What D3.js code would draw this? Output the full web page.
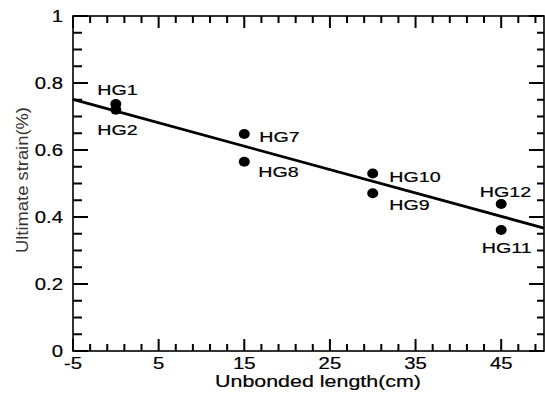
<!DOCTYPE html>
<html>
<head>
<meta charset="utf-8">
<script src="https://cdn.jsdelivr.net/npm/d3@7"></script>
<style>
  body { margin: 0; background: #fff; }
  svg { display: block; font-family: "Liberation Sans", Arial, sans-serif; }
</style>
</head>
<body>
<svg id="chart" width="545" height="394"></svg>
<script>
// ── Data ────────────────────────────────────────────────────────────────────
const specimens = ["HG1", "HG2", "HG7", "HG8", "HG10", "HG9", "HG12", "HG11"];
const unbonded  = [0, 0, 15, 15, 30, 30, 45, 45];
const strain    = [0.737, 0.72, 0.648, 0.565, 0.530, 0.471, 0.439, 0.361];
// label offsets (px) relative to each point
const labelDx   = [-18.5, -18.5, 15, 14, 16.5, 16.5, -21.5, -19.5];
const labelDy   = [-9, 25, 8.5, 15.5, 8.5, 16.5, -7, 22.5];

// fitted trend line endpoints
const fitX = [-5, 50];
const fitY = [0.751, 0.367];

const xTicks = [-5, 5, 15, 25, 35, 45];
const yTicks = [0, 0.2, 0.4, 0.6, 0.8, 1];
const xMinor = [-3, -1, 1, 3, 7, 9, 11, 13, 17, 19, 21, 23, 27, 29, 31, 33, 37, 39, 41, 43, 47, 49];
const yMinor = [0.05, 0.1, 0.15, 0.25, 0.3, 0.35, 0.45, 0.5, 0.55, 0.65, 0.7, 0.75, 0.85, 0.9, 0.95];

// ── Layout ──────────────────────────────────────────────────────────────────
const svg = d3.select("#chart");
const left = 73, right = 544, top0 = 16, bottom = 351;

const x = d3.scaleLinear().domain([-5, 50]).range([left, right]);
const y = d3.scaleLinear().domain([0, 1]).range([bottom, top0]);

const stretch = 1.27;   // the original lettering is noticeably wide
const tw = 2;           // tick thickness

// ── Inward ticks on all four sides, drawn as thin filled bars ───────────────
const xTickData = xTicks.map(v => ({ v, len: 12 })).concat(xMinor.map(v => ({ v, len: 7 })));
const yTickData = yTicks.map(v => ({ v, l: 15, r: 15 })).concat(yMinor.map(v => ({ v, l: 9, r: 7 })));

const tg = svg.append("g").attr("fill", "#000");
tg.selectAll(".tb").data(xTickData).join("rect").attr("class", "tb")
  .attr("x", d => x(d.v) - tw / 2).attr("y", d => bottom - d.len)
  .attr("width", tw).attr("height", d => d.len);
tg.selectAll(".tt").data(xTickData).join("rect").attr("class", "tt")
  .attr("x", d => x(d.v) - tw / 2).attr("y", top0)
  .attr("width", tw).attr("height", d => d.len);
tg.selectAll(".tl").data(yTickData).join("rect").attr("class", "tl")
  .attr("x", left).attr("y", d => y(d.v) - tw / 2)
  .attr("width", d => d.l).attr("height", tw);
tg.selectAll(".tr").data(yTickData).join("rect").attr("class", "tr")
  .attr("x", d => right - d.r).attr("y", d => y(d.v) - tw / 2)
  .attr("width", d => d.r).attr("height", tw);

// ── Frame ───────────────────────────────────────────────────────────────────
svg.append("rect")
  .attr("x", left).attr("y", top0).attr("width", right - left).attr("height", bottom - top0)
  .attr("fill", "none").attr("stroke", "#000").attr("stroke-width", 1.6);

// ── Tick labels ─────────────────────────────────────────────────────────────
svg.append("g").selectAll("text").data(xTicks).join("text")
  .attr("transform", d => `translate(${x(d)},${bottom + 18}) scale(${stretch},1)`)
  .attr("text-anchor", "middle").attr("font-size", 16).attr("fill", "#000")
  .attr("stroke", "#000").attr("stroke-width", 0.2)
  .text(d => d);

svg.append("g").selectAll("text").data(yTicks).join("text")
  .attr("transform", d => `translate(${left - 10},${y(d) + 6}) scale(${stretch},1)`)
  .attr("text-anchor", "end").attr("font-size", 16).attr("fill", "#000")
  .attr("stroke", "#000").attr("stroke-width", 0.2)
  .text(d => d);

// ── Axis titles ─────────────────────────────────────────────────────────────
svg.append("text")
  .attr("x", 215).attr("y", 387)
  .attr("font-size", 16.5).attr("fill", "#000")
  .attr("stroke", "#000").attr("stroke-width", 0.2)
  .attr("textLength", 206).attr("lengthAdjust", "spacingAndGlyphs")
  .text("Unbonded length(cm)");

svg.append("text")
  .attr("transform", `translate(28,253) rotate(-90)`)
  .attr("font-size", 17).attr("fill", "#333")
  .attr("textLength", 146).attr("lengthAdjust", "spacingAndGlyphs")
  .text("Ultimate strain(%)");

// ── Trend line ──────────────────────────────────────────────────────────────
svg.append("path")
  .datum(fitX.map((v, i) => [v, fitY[i]]))
  .attr("d", d3.line().x(d => x(d[0])).y(d => y(d[1])))
  .attr("stroke", "#000").attr("stroke-width", 2.8).attr("fill", "none");

// ── Points and labels ───────────────────────────────────────────────────────
const pts = specimens.map((s, i) => ({ s, x: unbonded[i], y: strain[i], dx: labelDx[i], dy: labelDy[i] }));

svg.append("g").selectAll("ellipse").data(pts).join("ellipse")
  .attr("cx", d => x(d.x)).attr("cy", d => y(d.y))
  .attr("rx", 5.5).attr("ry", 5)
  .attr("fill", "#000");

svg.append("g").selectAll("text").data(pts).join("text")
  .attr("transform", d => `translate(${x(d.x) + d.dx},${y(d.y) + d.dy}) scale(${stretch},1)`)
  .attr("font-size", 15.5).attr("fill", "#000")
  .attr("stroke", "#000").attr("stroke-width", 0.2)
  .text(d => d.s);
</script>
</body>
</html>
